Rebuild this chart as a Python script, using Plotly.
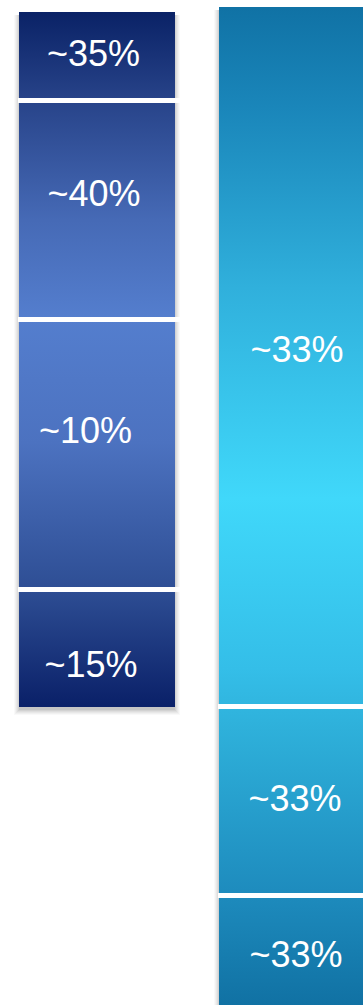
import plotly.graph_objects as go

# ---- data ----
left_labels = ["~35%", "~40%", "~10%", "~15%"]
left_segments = [88.5, 219, 270, 117.5]
right_labels = ["~33%", "~33%", "~33%"]
right_segments = [699.5, 189, 115]

# ---- layout / style ----
W, H = 363, 1005
bars = [
    dict(x0=19, x1=175, top=12, segs=left_segments, labels=left_labels,
         label_dy=[0.5, -13, -21, 20], label_dx=[-3.5, -3, -11.5, -6],
         colors=[[0.0, "rgb(10,34,102)"], [0.13, "rgb(40,68,138)"], [0.3, "rgb(70,106,182)"],
                 [0.44, "rgb(84,126,206)"], [0.62, "rgb(76,114,192)"], [0.83, "rgb(46,78,148)"],
                 [1.0, "rgb(10,32,104)"]]),
    dict(x0=219, x1=375, top=7, segs=right_segments, labels=right_labels,
         label_dy=[-3.5, 1, 4.5], label_dx=[0, -2, -1],
         colors=[[0.0, "rgb(16,114,165)"], [0.1, "rgb(26,134,186)"], [0.28, "rgb(48,176,220)"],
                 [0.49, "rgb(64,216,250)"], [0.66, "rgb(52,190,232)"], [0.72, "rgb(46,176,218)"],
                 [0.88, "rgb(30,140,190)"], [1.0, "rgb(16,112,162)"]]),
]

fig = go.Figure()

for b in bars:
    bottom = b["top"] + sum(b["segs"])
    x0, x1, top = b["x0"], b["x1"], b["top"]
    # soft drop shadow
    for k, a in [(6, 0.025), (5, 0.03), (4, 0.035), (3, 0.04), (2, 0.05), (1, 0.06)]:
        fig.add_trace(go.Scatter(
            x=[x0 - k + 1, x1 + k - 1, x1 + k - 1, x0 - k + 1, x0 - k + 1],
            y=[top + 3, top + 3, bottom + k + 2, bottom + k + 2, top + 3],
            mode="lines", line=dict(width=0), fill="toself",
            fillcolor=f"rgba(0,0,0,{a})", hoverinfo="skip", showlegend=False))
    fig.add_trace(go.Scatter(
        x=[x0, x1, x1, x0, x0], y=[top, top, bottom, bottom, top],
        mode="lines", line=dict(width=0), fill="toself",
        fillgradient=dict(type="vertical", colorscale=b["colors"], start=top, stop=bottom),
        hoverinfo="skip", showlegend=False))
    # separators
    cum = top
    for s in b["segs"][:-1]:
        cum += s
        fig.add_trace(go.Scatter(
            x=[x0 - 1, x1 + 6], y=[cum, cum], mode="lines",
            line=dict(color="white", width=5), hoverinfo="skip", showlegend=False))
    # labels
    cum = top
    xs, ys = [], []
    for i, s in enumerate(b["segs"]):
        xs.append((x0 + x1) / 2 + b["label_dx"][i])
        ys.append(cum + s / 2 + b["label_dy"][i])
        cum += s
    fig.add_trace(go.Scatter(
        x=xs, y=ys, mode="text", text=b["labels"],
        textfont=dict(family="Liberation Sans, Arial, sans-serif", size=36, color="white"),
        hoverinfo="skip", showlegend=False))

fig.update_layout(
    width=W, height=H, margin=dict(l=0, r=0, t=0, b=0),
    paper_bgcolor="white", plot_bgcolor="white",
    xaxis=dict(range=[0, W], visible=False, fixedrange=True),
    yaxis=dict(range=[H, 0], visible=False, fixedrange=True),
)
fig.write_html("out.html", config={"displayModeBar": False})
